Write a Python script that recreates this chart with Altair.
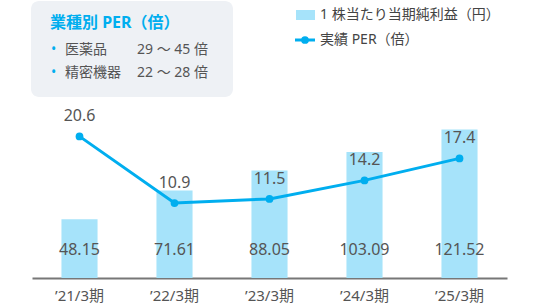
import altair as alt
import pandas as pd

periods = ["’21/3期", "’22/3期", "’23/3期", "’24/3期", "’25/3期"]
eps = [48.15, 71.61, 88.05, 103.09, 121.52]
per = [20.6, 10.9, 11.5, 14.2, 17.4]

legend_labels = ["1 株当たり当期純利益（円）", "実績 PER（倍）"]
box_title = "業種別 PER（倍）"
industries = ["医薬品", "精密機器"]
industry_ranges = ["29 ～ 45 倍", "22 ～ 28 倍"]

FONT = "Noto Sans, Noto Sans CJK JP, sans-serif"
BAR = "#a6e3fa"
LINE = "#00aeef"
TXT = "#555555"

df = pd.DataFrame({"period": periods, "eps": eps, "per": per,
                   "eps_label": [f"{v:.2f}" for v in eps],
                   "per_label": [f"{v:.1f}" for v in per]})

x = alt.X("period:N", sort=periods, title=None,
          scale=alt.Scale(paddingInner=0.62, paddingOuter=0.31),
          axis=alt.Axis(labelAngle=0, ticks=False, domainColor="#777777", domainWidth=2,
                        labelColor=TXT, labelFont=FONT, labelFontSize=15, labelPadding=10,
                        grid=False))

base = alt.Chart(df)

bars = base.mark_bar(color=BAR).encode(
    x=x,
    y=alt.Y("eps:Q", scale=alt.Scale(domain=[0, 180]), axis=None),
)
bar_text = base.mark_text(font=FONT, fontSize=16, color=TXT, baseline="middle").encode(
    x=x, y=alt.value(192), text="eps_label:N")

ys = alt.Y("per:Q", scale=alt.Scale(domain=[0, 32]), axis=None)
line = base.mark_line(color=LINE, strokeWidth=3).encode(x=x, y=ys)
pts = base.mark_point(color=LINE, filled=True, size=60, opacity=1).encode(x=x, y=ys)
line_text = base.mark_text(font=FONT, fontSize=16, color=TXT, baseline="middle", dy=-20).encode(
    x=x, y=ys, text="per_label:N")

bars_layer = alt.layer(bars, bar_text)
line_layer = alt.layer(line, pts, line_text)

# info box
box_df = pd.DataFrame({"k": [0]})
box = alt.Chart(box_df).mark_rect(color="#eef1f5", cornerRadius=8).encode(
    x=alt.value(-1), x2=alt.value(201), y=alt.value(-57), y2=alt.value(39))
title = alt.Chart(pd.DataFrame({"t": [box_title]})).mark_text(
    font=FONT, fontSize=16, fontWeight="bold", color=LINE, align="left", baseline="middle").encode(
    x=alt.value(18), y=alt.value(-35), text="t:N")
ind_df = pd.DataFrame({"name": industries, "range": industry_ranges, "row": [0, 1]})
rows = alt.Scale(domain=[0, 1], range=[-8, 15])
bullets = alt.Chart(ind_df).mark_text(font=FONT, fontSize=14, color=LINE, align="left",
                                       baseline="middle", text="•").encode(
    x=alt.value(19), y=alt.Y("row:Q", scale=rows, axis=None))
names = alt.Chart(ind_df).mark_text(font=FONT, fontSize=14, color=TXT, align="left",
                                     baseline="middle").encode(
    x=alt.value(33), y=alt.Y("row:Q", scale=rows, axis=None), text="name:N")
ranges_ = alt.Chart(ind_df).mark_text(font=FONT, fontSize=14, color=TXT, align="left",
                                       baseline="middle").encode(
    x=alt.value(105), y=alt.Y("row:Q", scale=rows, axis=None), text="range:N")

# legend
leg_df = pd.DataFrame({"label": legend_labels, "row": [0, 1]})
lrows = alt.Scale(domain=[0, 1], range=[-43, -18])
leg_text = alt.Chart(leg_df).mark_text(font=FONT, fontSize=14, color="#444444", align="left",
                                        baseline="middle").encode(
    x=alt.value(288), y=alt.Y("row:Q", scale=lrows, axis=None), text="label:N")
leg_rect = alt.Chart(pd.DataFrame({"k": [0]})).mark_rect(color=BAR).encode(
    x=alt.value(264), x2=alt.value(283), y=alt.value(-48), y2=alt.value(-38))
leg_line = alt.Chart(pd.DataFrame({"k": [0]})).mark_rule(color=LINE, strokeWidth=3).encode(
    x=alt.value(263), x2=alt.value(283), y=alt.value(-18))
leg_pt = alt.Chart(pd.DataFrame({"k": [0]})).mark_point(color=LINE, filled=True, size=60,
                                                          opacity=1).encode(
    x=alt.value(273), y=alt.value(-18))

decor = alt.layer(box, title, bullets, names, ranges_).resolve_scale(y="independent")
legend = alt.layer(leg_rect, leg_line, leg_pt, leg_text)

chart = alt.layer(decor, bars_layer, line_layer, legend).resolve_scale(y="independent").properties(
    width=475, height=220,
    background="white",
    autosize=alt.AutoSizeParams(type="none"),
    padding={"left": 32, "top": 58, "right": 26, "bottom": 26},
).configure_view(stroke=None).configure_axisY(
    domain=False, ticks=False, labels=False, grid=False
)

chart.save("out.html", embed_options={"renderer": "svg", "actions": False})
